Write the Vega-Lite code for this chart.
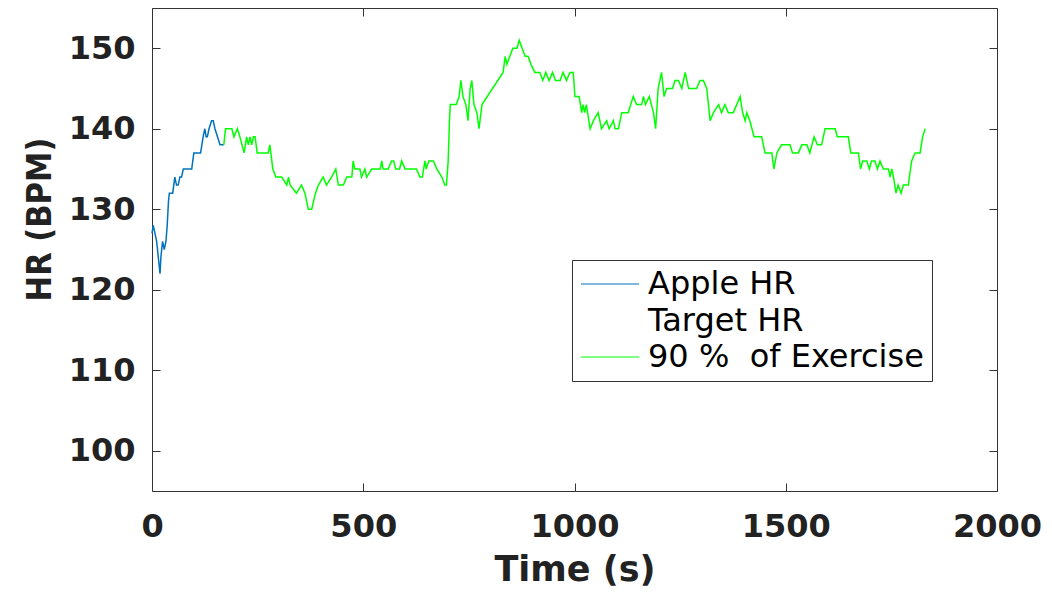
{
  "$schema": "https://vega.github.io/schema/vega-lite/v6.json",
  "autosize": "none",
  "width": 845,
  "height": 483,
  "padding": {"left": 152, "top": 8, "right": 55, "bottom": 103},
  "background": "white",
  "config": {"view": {"stroke": "#333333", "strokeWidth": 1}},
  "data": {"values": [
    {"t":0,"hr":127,"s":"Apple HR"},{"t":3,"hr":128,"s":"Apple HR"},{"t":7,"hr":127,"s":"Apple HR"},{"t":11,"hr":126,"s":"Apple HR"},{"t":15,"hr":124,"s":"Apple HR"},{"t":19,"hr":122,"s":"Apple HR"},{"t":21,"hr":124,"s":"Apple HR"},{"t":25,"hr":126,"s":"Apple HR"},{"t":29,"hr":125,"s":"Apple HR"},{"t":33,"hr":126,"s":"Apple HR"},{"t":36,"hr":128,"s":"Apple HR"},{"t":39,"hr":131,"s":"Apple HR"},{"t":41,"hr":132,"s":"Apple HR"},{"t":49,"hr":132,"s":"Apple HR"},{"t":54,"hr":134,"s":"Apple HR"},{"t":58,"hr":133,"s":"Apple HR"},{"t":62,"hr":133,"s":"Apple HR"},{"t":66,"hr":134,"s":"Apple HR"},{"t":70,"hr":134,"s":"Apple HR"},{"t":74,"hr":135,"s":"Apple HR"},{"t":94,"hr":135,"s":"Apple HR"},{"t":99,"hr":137,"s":"Apple HR"},{"t":115,"hr":137,"s":"Apple HR"},{"t":121,"hr":139,"s":"Apple HR"},{"t":125,"hr":140,"s":"Apple HR"},{"t":128,"hr":139,"s":"Apple HR"},{"t":131,"hr":139,"s":"Apple HR"},{"t":135,"hr":140,"s":"Apple HR"},{"t":141,"hr":141,"s":"Apple HR"},{"t":145,"hr":141,"s":"Apple HR"},{"t":149,"hr":140,"s":"Apple HR"},{"t":155,"hr":139,"s":"Apple HR"},{"t":161,"hr":138,"s":"Apple HR"},{"t":170,"hr":138,"s":"Apple HR"},
    {"t":170,"hr":138,"s":"90 %  of Exercise"},{"t":174,"hr":140,"s":"90 %  of Exercise"},{"t":189,"hr":140,"s":"90 %  of Exercise"},{"t":194,"hr":139,"s":"90 %  of Exercise"},{"t":202,"hr":140,"s":"90 %  of Exercise"},{"t":208,"hr":139,"s":"90 %  of Exercise"},{"t":218,"hr":137,"s":"90 %  of Exercise"},{"t":224,"hr":139,"s":"90 %  of Exercise"},{"t":228,"hr":138,"s":"90 %  of Exercise"},{"t":232,"hr":139,"s":"90 %  of Exercise"},{"t":236,"hr":138,"s":"90 %  of Exercise"},{"t":240,"hr":139,"s":"90 %  of Exercise"},{"t":244,"hr":139,"s":"90 %  of Exercise"},{"t":249,"hr":137,"s":"90 %  of Exercise"},{"t":275,"hr":137,"s":"90 %  of Exercise"},{"t":279,"hr":138,"s":"90 %  of Exercise"},{"t":286,"hr":135,"s":"90 %  of Exercise"},{"t":293,"hr":134,"s":"90 %  of Exercise"},{"t":307,"hr":134,"s":"90 %  of Exercise"},{"t":319,"hr":133,"s":"90 %  of Exercise"},{"t":323,"hr":134,"s":"90 %  of Exercise"},{"t":327,"hr":133,"s":"90 %  of Exercise"},{"t":342,"hr":132,"s":"90 %  of Exercise"},{"t":354,"hr":133,"s":"90 %  of Exercise"},{"t":362,"hr":132,"s":"90 %  of Exercise"},{"t":370,"hr":130,"s":"90 %  of Exercise"},{"t":378,"hr":130,"s":"90 %  of Exercise"},{"t":387,"hr":132,"s":"90 %  of Exercise"},{"t":394,"hr":133,"s":"90 %  of Exercise"},{"t":405,"hr":134,"s":"90 %  of Exercise"},{"t":413,"hr":133,"s":"90 %  of Exercise"},{"t":425,"hr":134,"s":"90 %  of Exercise"},{"t":435,"hr":135,"s":"90 %  of Exercise"},{"t":441,"hr":133,"s":"90 %  of Exercise"},{"t":453,"hr":133,"s":"90 %  of Exercise"},{"t":461,"hr":134,"s":"90 %  of Exercise"},{"t":473,"hr":134,"s":"90 %  of Exercise"},{"t":476,"hr":136,"s":"90 %  of Exercise"},{"t":480,"hr":135,"s":"90 %  of Exercise"},{"t":492,"hr":135,"s":"90 %  of Exercise"},{"t":496,"hr":134,"s":"90 %  of Exercise"},{"t":504,"hr":135,"s":"90 %  of Exercise"},{"t":508,"hr":134,"s":"90 %  of Exercise"},{"t":520,"hr":135,"s":"90 %  of Exercise"},{"t":540,"hr":135,"s":"90 %  of Exercise"},{"t":544,"hr":136,"s":"90 %  of Exercise"},{"t":547,"hr":135,"s":"90 %  of Exercise"},{"t":559,"hr":135,"s":"90 %  of Exercise"},{"t":567,"hr":136,"s":"90 %  of Exercise"},{"t":572,"hr":136,"s":"90 %  of Exercise"},{"t":577,"hr":135,"s":"90 %  of Exercise"},{"t":586,"hr":135,"s":"90 %  of Exercise"},{"t":591,"hr":136,"s":"90 %  of Exercise"},{"t":599,"hr":135,"s":"90 %  of Exercise"},{"t":626,"hr":135,"s":"90 %  of Exercise"},{"t":634,"hr":134,"s":"90 %  of Exercise"},{"t":640,"hr":134,"s":"90 %  of Exercise"},{"t":646,"hr":136,"s":"90 %  of Exercise"},{"t":649,"hr":135,"s":"90 %  of Exercise"},{"t":655,"hr":136,"s":"90 %  of Exercise"},{"t":666,"hr":136,"s":"90 %  of Exercise"},{"t":674,"hr":135,"s":"90 %  of Exercise"},{"t":686,"hr":134,"s":"90 %  of Exercise"},{"t":693,"hr":133,"s":"90 %  of Exercise"},{"t":697,"hr":133,"s":"90 %  of Exercise"},{"t":701,"hr":136,"s":"90 %  of Exercise"},{"t":704,"hr":141,"s":"90 %  of Exercise"},{"t":706,"hr":143,"s":"90 %  of Exercise"},{"t":720,"hr":143,"s":"90 %  of Exercise"},{"t":727,"hr":144,"s":"90 %  of Exercise"},{"t":731,"hr":146,"s":"90 %  of Exercise"},{"t":736,"hr":144,"s":"90 %  of Exercise"},{"t":743,"hr":143,"s":"90 %  of Exercise"},{"t":748,"hr":141,"s":"90 %  of Exercise"},{"t":753,"hr":145,"s":"90 %  of Exercise"},{"t":757,"hr":146,"s":"90 %  of Exercise"},{"t":762,"hr":143,"s":"90 %  of Exercise"},{"t":769,"hr":142,"s":"90 %  of Exercise"},{"t":774,"hr":140,"s":"90 %  of Exercise"},{"t":781,"hr":143,"s":"90 %  of Exercise"},{"t":831,"hr":147,"s":"90 %  of Exercise"},{"t":836,"hr":149,"s":"90 %  of Exercise"},{"t":840,"hr":148,"s":"90 %  of Exercise"},{"t":847,"hr":149,"s":"90 %  of Exercise"},{"t":854,"hr":150,"s":"90 %  of Exercise"},{"t":864,"hr":150,"s":"90 %  of Exercise"},{"t":869,"hr":151,"s":"90 %  of Exercise"},{"t":876,"hr":150,"s":"90 %  of Exercise"},{"t":883,"hr":149,"s":"90 %  of Exercise"},{"t":890,"hr":149,"s":"90 %  of Exercise"},{"t":897,"hr":148,"s":"90 %  of Exercise"},{"t":906,"hr":147,"s":"90 %  of Exercise"},{"t":918,"hr":147,"s":"90 %  of Exercise"},{"t":925,"hr":146,"s":"90 %  of Exercise"},{"t":932,"hr":147,"s":"90 %  of Exercise"},{"t":940,"hr":146,"s":"90 %  of Exercise"},{"t":948,"hr":147,"s":"90 %  of Exercise"},{"t":955,"hr":146,"s":"90 %  of Exercise"},{"t":966,"hr":146,"s":"90 %  of Exercise"},{"t":973,"hr":147,"s":"90 %  of Exercise"},{"t":981,"hr":146,"s":"90 %  of Exercise"},{"t":989,"hr":147,"s":"90 %  of Exercise"},{"t":997,"hr":147,"s":"90 %  of Exercise"},{"t":1001,"hr":144,"s":"90 %  of Exercise"},{"t":1011,"hr":144,"s":"90 %  of Exercise"},{"t":1017,"hr":142,"s":"90 %  of Exercise"},{"t":1020,"hr":143,"s":"90 %  of Exercise"},{"t":1024,"hr":142,"s":"90 %  of Exercise"},{"t":1028,"hr":143,"s":"90 %  of Exercise"},{"t":1037,"hr":140,"s":"90 %  of Exercise"},{"t":1045,"hr":141,"s":"90 %  of Exercise"},{"t":1056,"hr":142,"s":"90 %  of Exercise"},{"t":1064,"hr":140,"s":"90 %  of Exercise"},{"t":1076,"hr":141,"s":"90 %  of Exercise"},{"t":1082,"hr":140,"s":"90 %  of Exercise"},{"t":1092,"hr":141,"s":"90 %  of Exercise"},{"t":1096,"hr":140,"s":"90 %  of Exercise"},{"t":1104,"hr":140,"s":"90 %  of Exercise"},{"t":1112,"hr":142,"s":"90 %  of Exercise"},{"t":1127,"hr":142,"s":"90 %  of Exercise"},{"t":1139,"hr":144,"s":"90 %  of Exercise"},{"t":1147,"hr":143,"s":"90 %  of Exercise"},{"t":1159,"hr":143,"s":"90 %  of Exercise"},{"t":1163,"hr":144,"s":"90 %  of Exercise"},{"t":1168,"hr":143,"s":"90 %  of Exercise"},{"t":1177,"hr":144,"s":"90 %  of Exercise"},{"t":1187,"hr":142,"s":"90 %  of Exercise"},{"t":1192,"hr":140,"s":"90 %  of Exercise"},{"t":1198,"hr":145,"s":"90 %  of Exercise"},{"t":1206,"hr":147,"s":"90 %  of Exercise"},{"t":1212,"hr":144,"s":"90 %  of Exercise"},{"t":1218,"hr":145,"s":"90 %  of Exercise"},{"t":1232,"hr":145,"s":"90 %  of Exercise"},{"t":1238,"hr":146,"s":"90 %  of Exercise"},{"t":1246,"hr":146,"s":"90 %  of Exercise"},{"t":1254,"hr":145,"s":"90 %  of Exercise"},{"t":1262,"hr":147,"s":"90 %  of Exercise"},{"t":1270,"hr":145,"s":"90 %  of Exercise"},{"t":1289,"hr":145,"s":"90 %  of Exercise"},{"t":1297,"hr":146,"s":"90 %  of Exercise"},{"t":1305,"hr":146,"s":"90 %  of Exercise"},{"t":1313,"hr":145,"s":"90 %  of Exercise"},{"t":1321,"hr":141,"s":"90 %  of Exercise"},{"t":1329,"hr":142,"s":"90 %  of Exercise"},{"t":1341,"hr":143,"s":"90 %  of Exercise"},{"t":1348,"hr":142,"s":"90 %  of Exercise"},{"t":1356,"hr":143,"s":"90 %  of Exercise"},{"t":1364,"hr":142,"s":"90 %  of Exercise"},{"t":1376,"hr":142,"s":"90 %  of Exercise"},{"t":1384,"hr":143,"s":"90 %  of Exercise"},{"t":1392,"hr":144,"s":"90 %  of Exercise"},{"t":1398,"hr":142,"s":"90 %  of Exercise"},{"t":1404,"hr":141,"s":"90 %  of Exercise"},{"t":1408,"hr":142,"s":"90 %  of Exercise"},{"t":1415,"hr":141,"s":"90 %  of Exercise"},{"t":1425,"hr":139,"s":"90 %  of Exercise"},{"t":1443,"hr":139,"s":"90 %  of Exercise"},{"t":1451,"hr":137,"s":"90 %  of Exercise"},{"t":1467,"hr":137,"s":"90 %  of Exercise"},{"t":1472,"hr":135,"s":"90 %  of Exercise"},{"t":1479,"hr":137,"s":"90 %  of Exercise"},{"t":1490,"hr":138,"s":"90 %  of Exercise"},{"t":1510,"hr":138,"s":"90 %  of Exercise"},{"t":1516,"hr":137,"s":"90 %  of Exercise"},{"t":1530,"hr":137,"s":"90 %  of Exercise"},{"t":1538,"hr":138,"s":"90 %  of Exercise"},{"t":1550,"hr":138,"s":"90 %  of Exercise"},{"t":1557,"hr":137,"s":"90 %  of Exercise"},{"t":1567,"hr":139,"s":"90 %  of Exercise"},{"t":1575,"hr":138,"s":"90 %  of Exercise"},{"t":1585,"hr":138,"s":"90 %  of Exercise"},{"t":1593,"hr":140,"s":"90 %  of Exercise"},{"t":1617,"hr":140,"s":"90 %  of Exercise"},{"t":1622,"hr":139,"s":"90 %  of Exercise"},{"t":1648,"hr":139,"s":"90 %  of Exercise"},{"t":1654,"hr":137,"s":"90 %  of Exercise"},{"t":1672,"hr":137,"s":"90 %  of Exercise"},{"t":1677,"hr":135,"s":"90 %  of Exercise"},{"t":1682,"hr":136,"s":"90 %  of Exercise"},{"t":1692,"hr":136,"s":"90 %  of Exercise"},{"t":1698,"hr":135,"s":"90 %  of Exercise"},{"t":1703,"hr":136,"s":"90 %  of Exercise"},{"t":1711,"hr":136,"s":"90 %  of Exercise"},{"t":1717,"hr":135,"s":"90 %  of Exercise"},{"t":1723,"hr":136,"s":"90 %  of Exercise"},{"t":1731,"hr":135,"s":"90 %  of Exercise"},{"t":1743,"hr":135,"s":"90 %  of Exercise"},{"t":1747,"hr":134,"s":"90 %  of Exercise"},{"t":1751,"hr":135,"s":"90 %  of Exercise"},{"t":1755,"hr":134,"s":"90 %  of Exercise"},{"t":1761,"hr":132,"s":"90 %  of Exercise"},{"t":1766,"hr":133,"s":"90 %  of Exercise"},{"t":1773,"hr":132,"s":"90 %  of Exercise"},{"t":1778,"hr":133,"s":"90 %  of Exercise"},{"t":1790,"hr":133,"s":"90 %  of Exercise"},{"t":1798,"hr":136,"s":"90 %  of Exercise"},{"t":1806,"hr":137,"s":"90 %  of Exercise"},{"t":1818,"hr":137,"s":"90 %  of Exercise"},{"t":1824,"hr":139,"s":"90 %  of Exercise"},{"t":1830,"hr":140,"s":"90 %  of Exercise"}
  ]},
  "layer": [
    {
      "mark": {"type": "line", "strokeWidth": 1.5, "interpolate": "linear"},
      "encoding": {
        "x": {"field": "t", "type": "quantitative",
          "scale": {"domain": [0, 2000], "nice": false, "zero": false},
          "axis": {"orient": "bottom", "values": [0, 500, 1000, 1500, 2000], "format": "d", "tickSize": -8, "tickColor": "#333333", "domain": false, "grid": false,
            "labelFlush": false, "labelOverlap": false, "labelBound": false, "labelPadding": 28,
            "labelFont": "DejaVu Sans", "labelFontWeight": "bold", "labelFontSize": 32, "labelColor": "#222222",
            "title": "Time (s)", "titleFont": "DejaVu Sans", "titleFontWeight": "bold", "titleFontSize": 35, "titleColor": "#222222",
            "titleY": 89, "titleBaseline": "alphabetic"}},
        "y": {"field": "hr", "type": "quantitative",
          "scale": {"domain": [95, 155], "nice": false, "zero": false},
          "axis": {"orient": "left", "values": [100, 110, 120, 130, 140, 150], "format": "d", "tickSize": -8, "tickColor": "#333333", "domain": false, "grid": false,
            "labelOverlap": false, "labelBound": false, "labelPadding": 25,
            "labelFont": "DejaVu Sans", "labelFontWeight": "bold", "labelFontSize": 32, "labelColor": "#222222",
            "title": "HR (BPM)", "titleFont": "Liberation Sans Narrow, DejaVu Sans Condensed, Liberation Sans", "titleFontWeight": "bold", "titleFontSize": 34, "titleColor": "#222222",
            "titleX": -102, "titleY": 211, "titleBaseline": "alphabetic", "titleAngle": -90, "titleAlign": "center"}},
        "color": {"field": "s", "type": "nominal",
          "scale": {"domain": ["Apple HR", "Target HR", "90 %  of Exercise"], "range": ["#0072BD", "transparent", "#00FF00"]},
          "legend": {"orient": "none", "legendX": 420, "legendY": 252, "title": null, "symbolType": "stroke", "symbolSize": 3364, "symbolStrokeWidth": 1.2,
            "clipHeight": 32, "rowPadding": 4.5, "labelOffset": 8, "padding": 8, "strokeColor": "#333333", "fillColor": "white",
            "labelExpr": "replace(datum.label, '  ', ' \u00a0')",
            "labelFont": "DejaVu Sans", "labelFontSize": 32, "labelColor": "#000000", "labelLimit": 500}}
      }
    },
    {
      "mark": {"type": "point", "opacity": 0},
      "encoding": {
        "x": {"field": "t", "type": "quantitative",
          "axis": {"orient": "top", "values": [0, 500, 1000, 1500, 2000], "tickSize": -8, "tickColor": "#333333", "domain": false, "grid": false, "labels": false, "title": null}},
        "y": {"field": "hr", "type": "quantitative",
          "axis": {"orient": "right", "values": [100, 110, 120, 130, 140, 150], "tickSize": -8, "tickColor": "#333333", "domain": false, "grid": false, "labels": false, "title": null}}
      }
    }
  ],
  "resolve": {"axis": {"x": "independent", "y": "independent"}}
}
